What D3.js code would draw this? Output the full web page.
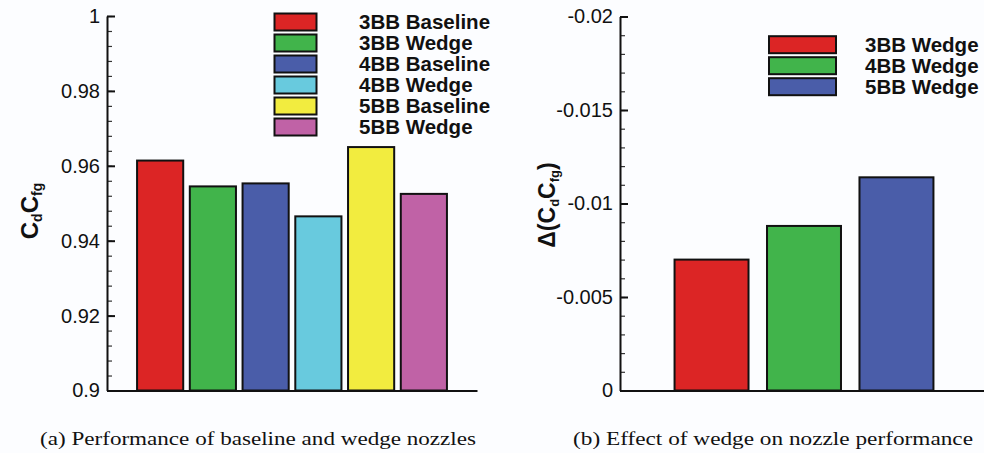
<!DOCTYPE html>
<html>
<head>
<meta charset="utf-8">
<script src="https://cdn.jsdelivr.net/npm/d3@7"></script>
<style>
  html, body { margin: 0; padding: 0; background: #fcfdff; }
  svg { display: block; }
  text { font-family: "Liberation Sans", Arial, Helvetica, sans-serif; fill: #111; }
  .caption { font-family: "Liberation Serif", "DejaVu Serif", serif; }
</style>
</head>
<body>
<svg id="fig" width="984" height="453"></svg>
<script>
// Panel (a): discharge x thrust coefficient for each nozzle
const nozzles = ["3BB Baseline", "3BB Wedge", "4BB Baseline", "4BB Wedge", "5BB Baseline", "5BB Wedge"];
const cdcfg = [0.9614, 0.9545, 0.9553, 0.9465, 0.9650, 0.9525];
const nozzleColors = ["#dc2525", "#41b44b", "#4a5da9", "#68cade", "#f2ec3f", "#c062a6"];
const leftTicks = [0.9, 0.92, 0.94, 0.96, 0.98, 1];
const leftTickLabels = ["0.9", "0.92", "0.94", "0.96", "0.98", "1"];

// Panel (b): change in CdCfg due to the wedge
const wedges = ["3BB Wedge", "4BB Wedge", "5BB Wedge"];
const deltaCdCfg = [-0.0070, -0.0088, -0.0114];
const wedgeColors = ["#dc2525", "#41b44b", "#4a5da9"];
const rightTicks = [0, -0.005, -0.01, -0.015, -0.02];
const rightTickLabels = ["0", "-0.005", "-0.01", "-0.015", "-0.02"];

const captions = ["(a) Performance of baseline and wedge nozzles", "(b) Effect of wedge on nozzle performance"];

const svg = d3.select("#fig");

function drawAxisY(g, y, ticks, labels, minorStep) {
  const [d0, d1] = y.domain();
  const lo = Math.min(d0, d1), hi = Math.max(d0, d1);
  const minor = d3.range(Math.round((hi - lo) / minorStep) + 1).map(i => lo + i * minorStep);
  g.append("g")
    .attr("class", "minor")
    .call(d3.axisLeft(y).tickValues(minor).tickSize(-5).tickFormat(""))
    .call(s => s.select(".domain").remove())
    .call(s => s.selectAll("line").attr("stroke", "#333").attr("stroke-width", 1.2));
  g.append("g")
    .attr("class", "major")
    .call(d3.axisLeft(y).tickValues(ticks).tickSize(-8).tickSizeOuter(0).tickPadding(7)
      .tickFormat((d, i) => labels[i]))
    .call(s => s.select(".domain").attr("stroke", "#111").attr("stroke-width", 2))
    .call(s => s.selectAll("line").attr("stroke", "#111").attr("stroke-width", 2))
    .call(s => s.selectAll("text").attr("font-size", 20).attr("fill", "#111")
      .attr("font-family", "Liberation Sans, Arial, sans-serif"));
}

function drawLegend(g, names, colors, x0, y0, boxW, textX) {
  const rowH = 21, boxH = 17;
  const row = g.selectAll("g.leg").data(names).join("g").attr("class", "leg")
    .attr("transform", (d, i) => `translate(0,${y0 + i * rowH})`);
  row.append("rect")
    .attr("x", x0).attr("y", -boxH / 2).attr("width", boxW).attr("height", boxH)
    .attr("fill", (d, i) => colors[i]).attr("stroke", "#111").attr("stroke-width", 2);
  row.append("text")
    .attr("x", textX).attr("y", 7.3)
    .attr("font-size", 20.5).attr("font-weight", "bold")
    .text(d => d);
}

// ---------- panel (a) ----------
{
  const g = svg.append("g");
  const x = d3.scaleBand().domain(nozzles).range([107, 477]).paddingInner(0.125).paddingOuter(0.57);
  const y = d3.scaleLinear().domain([0.9, 1]).range([390.5, 16]);

  g.selectAll("rect.bar").data(cdcfg).join("rect").attr("class", "bar")
    .attr("x", (d, i) => x(nozzles[i]))
    .attr("width", x.bandwidth())
    .attr("y", d => y(d))
    .attr("height", d => y(0.9) - y(d))
    .attr("fill", (d, i) => nozzleColors[i])
    .attr("stroke", "#111").attr("stroke-width", 2);

  g.append("g").attr("transform", `translate(0,${y(0.9)})`)
    .call(d3.axisBottom(x).tickValues([]).tickSizeOuter(0))
    .call(s => s.select(".domain").attr("stroke", "#111").attr("stroke-width", 2));

  const ya = g.append("g").attr("transform", "translate(107,0)");
  drawAxisY(ya, y, leftTicks, leftTickLabels, 0.004);

  const t = g.append("text")
    .attr("transform", "translate(38,211) rotate(-90)")
    .attr("text-anchor", "middle").attr("font-weight", "bold").attr("font-size", 24);
  t.append("tspan").text("C");
  t.append("tspan").attr("font-size", 14).attr("dy", 4).text("d");
  t.append("tspan").attr("dy", -4).text("C");
  t.append("tspan").attr("font-size", 14).attr("dy", 4).text("fg");

  drawLegend(g.append("g"), nozzles, nozzleColors, 274.5, 22, 42, 359);
}

// ---------- panel (b) ----------
{
  const g = svg.append("g");
  const x = d3.scaleBand().domain(wedges).range([620, 988]).paddingInner(0.2).paddingOuter(0.59);
  const y = d3.scaleLinear().domain([0, -0.02]).range([390.5, 16.5]);

  g.selectAll("rect.bar").data(deltaCdCfg).join("rect").attr("class", "bar")
    .attr("x", (d, i) => x(wedges[i]))
    .attr("width", x.bandwidth())
    .attr("y", d => y(d))
    .attr("height", d => y(0) - y(d))
    .attr("fill", (d, i) => wedgeColors[i])
    .attr("stroke", "#111").attr("stroke-width", 2);

  g.append("g").attr("transform", `translate(0,${y(0)})`)
    .call(d3.axisBottom(x).tickValues([]).tickSizeOuter(0))
    .call(s => s.select(".domain").attr("stroke", "#111").attr("stroke-width", 2));

  const ya = g.append("g").attr("transform", "translate(620,0)");
  drawAxisY(ya, y, rightTicks, rightTickLabels, 0.001);

  const t = g.append("text")
    .attr("transform", "translate(555,205) rotate(-90)")
    .attr("text-anchor", "middle").attr("font-weight", "bold").attr("font-size", 23);
  t.append("tspan").text("\u0394(C");
  t.append("tspan").attr("font-size", 13).attr("dy", 4).text("d");
  t.append("tspan").attr("dy", -4).text("C");
  t.append("tspan").attr("font-size", 13).attr("dy", 4).text("fg");
  t.append("tspan").attr("dy", -4).text(")");

  drawLegend(g.append("g"), wedges, wedgeColors, 769, 44.7, 67, 865);
}

// ---------- captions ----------
svg.append("text").attr("class", "caption")
  .attr("x", 40).attr("y", 445).attr("font-size", 18)
  .attr("textLength", 436).attr("lengthAdjust", "spacingAndGlyphs")
  .text(captions[0]);
svg.append("text").attr("class", "caption")
  .attr("x", 573).attr("y", 445).attr("font-size", 18)
  .attr("textLength", 400).attr("lengthAdjust", "spacingAndGlyphs")
  .text(captions[1]);
</script>
</body>
</html>
